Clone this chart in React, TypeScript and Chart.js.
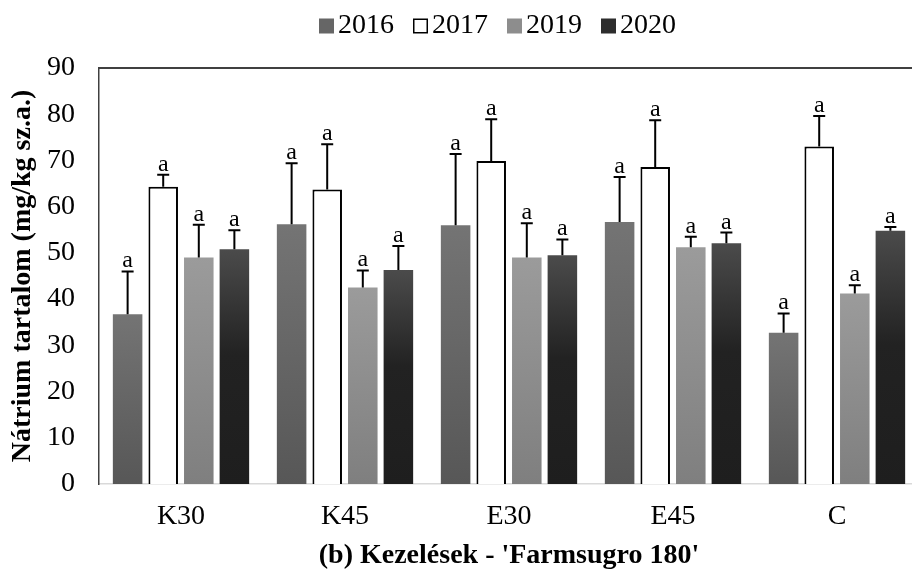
import React, { useEffect, useRef } from 'react';
import { Chart, registerables } from 'chart.js';

Chart.register(...registerables);

// ---- data ----
const categories = ['K30', 'K45', 'E30', 'E45', 'C'];
const seriesNames = ['2016', '2017', '2019', '2020'];

const values2016 = [36.7, 56.2, 56.0, 56.7, 32.7];
const values2017 = [64.3, 63.7, 69.9, 68.6, 73.0];
const values2019 = [49.0, 42.5, 49.0, 51.2, 41.2];
const values2020 = [50.8, 46.3, 49.5, 52.1, 54.8];

const errors2016 = [9.3, 13.2, 15.4, 9.7, 4.2];
const errors2017 = [2.6, 9.8, 9.0, 10.1, 6.6];
const errors2019 = [7.1, 3.7, 7.4, 2.3, 1.8];
const errors2020 = [4.1, 5.2, 3.4, 2.3, 0.8];

const letters2016 = ['a', 'a', 'a', 'a', 'a'];
const letters2017 = ['a', 'a', 'a', 'a', 'a'];
const letters2019 = ['a', 'a', 'a', 'a', 'a'];
const letters2020 = ['a', 'a', 'a', 'a', 'a'];

const yMin = 0;
const yMax = 90;
const yStep = 10;

const yTitle = 'Nátrium tartalom (mg/kg sz.a.)';
const xTitle = "(b) Kezelések - 'Farmsugro 180'";

// ---- styles ----
const FONT = '"Liberation Serif", "Times New Roman", serif';
const stops2016: [number, string][] = [[0, '#747474'], [1, '#575757']];
const stops2019: [number, string][] = [[0, '#9b9b9b'], [1, '#7f7f7f']];
const stops2020: [number, string][] = [[0, '#4b4b4b'], [0.45, '#222222'], [1, '#1e1e1e']];
const legendFills = ['#666666', '#ffffff', '#8d8d8d', '#2d2d2d'];

const gradientFill = (stops: [number, string][], fallback: string) => (ctx: any) => {
  const chart = ctx.chart;
  if (!chart.chartArea || ctx.type !== 'data') return fallback;
  const ys = chart.scales.y;
  const v = ctx.raw as number;
  const top = ys.getPixelForValue(v);
  const base = ys.getPixelForValue(0);
  if (!isFinite(top) || !isFinite(base) || Math.abs(base - top) < 1) return fallback;
  const g = chart.ctx.createLinearGradient(0, top, 0, base);
  stops.forEach(([o, c]) => g.addColorStop(o, c));
  return g;
};

const errorBarPlugin = {
  id: 'errorBars',
  afterDatasetsDraw(chart: any) {
    const { ctx } = chart;
    const ys = chart.scales.y;
    chart.data.datasets.forEach((ds: any, i: number) => {
      const meta = chart.getDatasetMeta(i);
      meta.data.forEach((bar: any, j: number) => {
        const v = ds.data[j];
        const e = ds.errors[j];
        const yv = ys.getPixelForValue(v);
        const ye = ys.getPixelForValue(v + e);
        const x = bar.x;
        ctx.save();
        ctx.strokeStyle = '#000';
        ctx.lineWidth = 2;
        ctx.beginPath();
        ctx.moveTo(x, yv);
        ctx.lineTo(x, ye);
        ctx.moveTo(x - 6, ye);
        ctx.lineTo(x + 6, ye);
        ctx.stroke();
        ctx.fillStyle = '#000';
        ctx.font = `24px ${FONT}`;
        ctx.textAlign = 'center';
        ctx.textBaseline = 'alphabetic';
        ctx.fillText(ds.letters[j], x, ye - 4);
        ctx.restore();
      });
    });
  },
};

const framePlugin = {
  id: 'frame',
  afterDraw(chart: any) {
    const { ctx, chartArea } = chart;
    ctx.save();
    ctx.strokeStyle = '#404040';
    ctx.lineWidth = 2;
    ctx.beginPath();
    ctx.moveTo(chartArea.left, chartArea.top);
    ctx.lineTo(chart.width, chartArea.top);
    ctx.stroke();
    ctx.restore();
  },
};

const legendPlugin = {
  id: 'customLegend',
  afterDraw(chart: any) {
    const { ctx } = chart;
    ctx.save();
    ctx.font = `28px ${FONT}`;
    ctx.textBaseline = 'middle';
    ctx.textAlign = 'left';
    let x = 319;
    const yc = 26;
    const box = 15;
    chart.data.datasets.forEach((ds: any, i: number) => {
      ctx.fillStyle = legendFills[i];
      ctx.fillRect(x, yc - box / 2, box, box);
      if (i === 1) {
        ctx.strokeStyle = '#000';
        ctx.lineWidth = 1.5;
        ctx.strokeRect(x + 0.75, yc - box / 2 + 0.75, box - 1.5, box - 1.5);
      }
      ctx.fillStyle = '#000';
      ctx.fillText(ds.label, x + box + 4, yc);
      x += box + 4 + ctx.measureText(ds.label).width + 19;
    });
    ctx.restore();
  },
};

export default function App() {
  const ref = useRef<HTMLCanvasElement | null>(null);

  useEffect(() => {
    if (!ref.current) return;
    const chart = new Chart(ref.current, {
      type: 'bar',
      data: {
        labels: categories,
        datasets: [
          {
            label: seriesNames[0],
            data: values2016,
            errors: errors2016,
            letters: letters2016,
            backgroundColor: gradientFill(stops2016, '#666666'),
            borderWidth: 0,
          } as any,
          {
            label: seriesNames[1],
            data: values2017,
            errors: errors2017,
            letters: letters2017,
            backgroundColor: '#ffffff',
            borderColor: '#000000',
            borderWidth: { top: 2, left: 2, right: 2, bottom: 0 },
            borderSkipped: 'bottom',
          } as any,
          {
            label: seriesNames[2],
            data: values2019,
            errors: errors2019,
            letters: letters2019,
            backgroundColor: gradientFill(stops2019, '#8d8d8d'),
            borderWidth: 0,
          } as any,
          {
            label: seriesNames[3],
            data: values2020,
            errors: errors2020,
            letters: letters2020,
            backgroundColor: gradientFill(stops2020, '#2d2d2d'),
            borderWidth: 0,
          } as any,
        ],
      },
      options: {
        responsive: false,
        animation: false,
        devicePixelRatio: 1,
        categoryPercentage: 0.868,
        barPercentage: 0.83,
        layout: { padding: { top: 68, right: 11, bottom: 0, left: 0 } },
        plugins: {
          legend: { display: false },
          tooltip: { enabled: false },
        },
        scales: {
          x: {
            grid: { display: false, drawTicks: false },
            border: { display: true, color: '#d9d9d9', width: 1.5 },
            ticks: { color: '#000', font: { family: FONT, size: 28 }, padding: 16 },
            title: {
              display: true,
              text: xTitle,
              color: '#000',
              font: { family: FONT, size: 28, weight: 'bold' },
              padding: { top: 0, bottom: 0 },
            },
            afterFit: (s: any) => {
              s.height = 89;
            },
          },
          y: {
            min: yMin,
            max: yMax,
            grid: { display: false, drawTicks: false },
            border: { display: true, color: '#404040', width: 1.5 },
            ticks: { stepSize: yStep, color: '#000', font: { family: FONT, size: 28 }, padding: 24 },
            title: {
              display: true,
              text: yTitle,
              color: '#000',
              font: { family: FONT, size: 28, weight: 'bold' },
              padding: { top: 6, bottom: 0 },
            },
            afterFit: (s: any) => {
              s.width = 99;
            },
          },
        },
      } as any,
      plugins: [errorBarPlugin, framePlugin, legendPlugin],
    });
    return () => chart.destroy();
  }, []);

  return (
    <div
      style={{
        position: 'fixed',
        left: 0,
        top: 0,
        width: 912,
        height: 573,
        overflow: 'hidden',
        background: '#ffffff',
      }}
    >
      <canvas ref={ref} width={930} height={573} style={{ width: 930, height: 573, display: 'block' }} />
    </div>
  );
}
